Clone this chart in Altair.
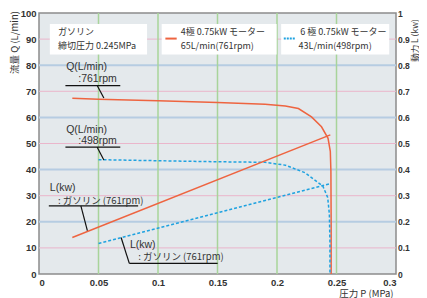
import altair as alt
import pandas as pd

# ---- data ----
# Q curve, 4-pole 761 rpm (left axis, L/min)
P_q761 = [0.028, 0.05, 0.10, 0.15, 0.19, 0.207, 0.218, 0.229, 0.2374, 0.2429, 0.2448, 0.2453, 0.2455, 0.2455]
Q_q761 = [67.3, 67.0, 66.4, 65.7, 65.0, 64.4, 63.4, 60.2, 56.4, 52.0, 47.0, 39.4, 20.0, 0.0]
# Q curve, 6-pole 498 rpm
P_q498 = [0.05, 0.10, 0.15, 0.19, 0.207, 0.2236, 0.2346, 0.2385, 0.2426, 0.2440, 0.2445, 0.2445]
Q_q498 = [43.8, 43.4, 43.0, 42.8, 41.7, 38.8, 35.0, 33.7, 29.3, 23.0, 12.0, 0.0]
# Power lines (right axis, kW)
P_l761 = [0.028, 0.2448]
L_l761 = [0.140, 0.533]
P_l498 = [0.05, 0.2448]
L_l498 = [0.117, 0.346]

# gridlines
grid_blue = [20, 40, 60, 80]
grid_pink = [10, 30, 50, 70, 90]
grid_green = [0.05, 0.10, 0.15, 0.20, 0.25]

x_ticks = [0, 0.05, 0.1, 0.15, 0.2, 0.25, 0.3]
y_ticks = [0, 10, 20, 30, 40, 50, 60, 70, 80, 90, 100]
r_ticks = [0, 0.1, 0.2, 0.3, 0.4, 0.5, 0.6, 0.7, 0.8, 0.9, 1.0]

# annotation texts (latin-only and kana ones)
ann_text = ["Q(L/min)", ":761rpm", "Q(L/min)", ":498rpm", "L(kw)", "L(kw)"]
ann_P = [0.0228, 0.0330, 0.0228, 0.0330, 0.0091, 0.0764]
ann_Q = [79.2, 74.7, 55.2, 51.0, 32.8, 11.3]
kana_text = [": ガソリン (761rpm)", ": ガソリン (761rpm)"]
kana_P = [0.0159, 0.0833]
kana_Q = [28.0, 6.6]
# annotation underlines and leader lines
seg_P1 = [0.0222, 0.0222, 0.00825, 0.0759, 0.0489, 0.0489, 0.0352, 0.069]
seg_Q1 = [72.2, 48.6, 26.1, 4.05, 72.2, 48.6, 26.1, 14.0]
seg_P2 = [0.0683, 0.0683, 0.0833, 0.1501, 0.0545, 0.0545, 0.0407, 0.0759]
seg_Q2 = [72.2, 48.6, 26.1, 4.05, 67.4, 43.7, 16.5, 4.05]

# info / legend boxes
box_P1 = [0.0091, 0.1031, 0.2035]
box_P2 = [0.0908, 0.1997, 0.2943]
box_Q1 = [84.1, 84.1, 84.1]
box_Q2 = [95.8, 95.8, 95.8]
box_text = ["ガソリン", "締切圧力 0.245MPa", "4極 0.75kW モーター", "65L/min(761rpm)", "6 極 0.75kW モーター", "43L/min(498rpm)"]
box_text_P = [0.0159, 0.0159, 0.1191, 0.1191, 0.2195, 0.2181]
box_text_Q = [92.7, 87.4, 92.7, 87.4, 92.7, 87.4]
leg_red_P = [0.1062, 0.1157]
leg_blue_P = [0.2057, 0.2153]
leg_Q = 90.2

RED = "#ee6440"
BLUE = "#1fa2e0"
TXT = "#333333"
CJK = "Noto Sans CJK JP"
NUM = "Liberation Sans"

xs = alt.Scale(domain=[0, 0.3], nice=False, zero=False)
ys = alt.Scale(domain=[0, 100], nice=False, zero=False)
rs = alt.Scale(domain=[0, 1], nice=False, zero=False)

common = dict(titleFont=CJK, titleFontWeight="normal", titleColor=TXT, labelFont=NUM,
              labelFontWeight="bold", labelColor=TXT, ticks=False, domain=False, grid=False,
              labelOverlap=False)

xaxis = alt.Axis(values=x_ticks, format="~g", title="圧力 P (MPa)", titleX=354, titleY=19,
                 titleAlign="right", titleBaseline="middle", titleFontSize=9.5,
                 labelFontSize=9.5, labelPadding=3, **common)
yaxis = alt.Axis(values=y_ticks, title="流量 Q (L/min)", titleAngle=270, titleX=-25, titleY=29,
                 titleAlign="center", titleBaseline="middle", titleFontSize=9.5,
                 labelFontSize=9.5, labelPadding=3, **common)
raxis = alt.Axis(values=r_ticks, format="~g", orient="right", title="動力 L (kw)", titleAngle=270,
                 titleX=18, titleY=27, titleAlign="center", titleBaseline="middle",
                 titleFontSize=8.5, labelFontSize=8.5, labelPadding=1.5, **common)


def X(f):
    return alt.X(f"{f}:Q", scale=xs, axis=xaxis)


def Y(f):
    return alt.Y(f"{f}:Q", scale=ys, axis=yaxis)


# gridlines
g_blue = alt.Chart(pd.DataFrame({"Q": grid_blue})).mark_rule(color="#b6cce2", strokeWidth=2).encode(y=Y("Q"))
g_pink = alt.Chart(pd.DataFrame({"Q": grid_pink})).mark_rule(color="#eab6cb", strokeWidth=1).encode(y=Y("Q"))
g_green = alt.Chart(pd.DataFrame({"P": grid_green})).mark_rule(color="#a8d49a", strokeWidth=1.5).encode(x=X("P"))

boxes = alt.Chart(pd.DataFrame({"P1": box_P1, "P2": box_P2, "Q1": box_Q1, "Q2": box_Q2})).mark_rect(
    color="white").encode(x=X("P1"), x2="P2", y=Y("Q1"), y2="Q2")

q761 = alt.Chart(pd.DataFrame({"P": P_q761, "Q": Q_q761, "o": list(range(len(P_q761)))})).mark_line(
    color=RED, strokeWidth=1.5).encode(x=X("P"), y=Y("Q"), order="o:Q")
q498 = alt.Chart(pd.DataFrame({"P": P_q498, "Q": Q_q498, "o": list(range(len(P_q498)))})).mark_line(
    color=BLUE, strokeWidth=1.5, strokeDash=[3, 2]).encode(x=X("P"), y=Y("Q"), order="o:Q")

segs = alt.Chart(pd.DataFrame({"P1": seg_P1, "Q1": seg_Q1, "P2": seg_P2, "Q2": seg_Q2})).mark_rule(
    color="#111111", strokeWidth=1.2).encode(x=X("P1"), x2="P2", y=Y("Q1"), y2="Q2")

ann = alt.Chart(pd.DataFrame({"P": ann_P, "Q": ann_Q, "t": ann_text})).mark_text(
    align="left", baseline="middle", font=NUM, fontSize=10.5, color=TXT).encode(x=X("P"), y=Y("Q"), text="t:N")
kana = alt.Chart(pd.DataFrame({"P": kana_P, "Q": kana_Q, "t": kana_text})).mark_text(
    align="left", baseline="middle", font=CJK, fontSize=9.5, color=TXT).encode(x=X("P"), y=Y("Q"), text="t:N")

btxt = alt.Chart(pd.DataFrame({"P": box_text_P, "Q": box_text_Q, "t": box_text})).mark_text(
    align="left", baseline="middle", font=CJK, fontSize=9, color=TXT).encode(x=X("P"), y=Y("Q"), text="t:N")

leg_red = alt.Chart(pd.DataFrame({"P1": [leg_red_P[0]], "P2": [leg_red_P[1]], "Q": [leg_Q]})).mark_rule(
    color=RED, strokeWidth=2).encode(x=X("P1"), x2="P2", y=Y("Q"))
leg_blue = alt.Chart(pd.DataFrame({"P1": [leg_blue_P[0]], "P2": [leg_blue_P[1]], "Q": [leg_Q]})).mark_rule(
    color=BLUE, strokeWidth=2, strokeDash=[2, 1]).encode(x=X("P1"), x2="P2", y=Y("Q"))

left = alt.layer(g_pink, g_blue, g_green, boxes, q761, q498, segs, ann, kana, btxt, leg_red, leg_blue)

l761 = alt.Chart(pd.DataFrame({"P": P_l761, "L": L_l761})).mark_line(color=RED, strokeWidth=1.5).encode(
    x=X("P"), y=alt.Y("L:Q", scale=rs, axis=raxis))
l498 = alt.Chart(pd.DataFrame({"P": P_l498, "L": L_l498})).mark_line(
    color=BLUE, strokeWidth=1.5, strokeDash=[3, 2]).encode(x=X("P"), y=alt.Y("L:Q", scale=rs, axis=raxis))
right = alt.layer(l761, l498)

chart = alt.layer(left, right).resolve_scale(y="independent").properties(
    width=357, height=261,
    autosize=alt.AutoSizeParams(type="none"),
    padding={"left": 31, "top": 5, "right": 23, "bottom": 24},
).configure_view(fill="#e4e9ec", stroke="#8c8c8c", strokeWidth=1.5)

chart.save("out.html", embed_options={"renderer": "svg", "actions": False})
